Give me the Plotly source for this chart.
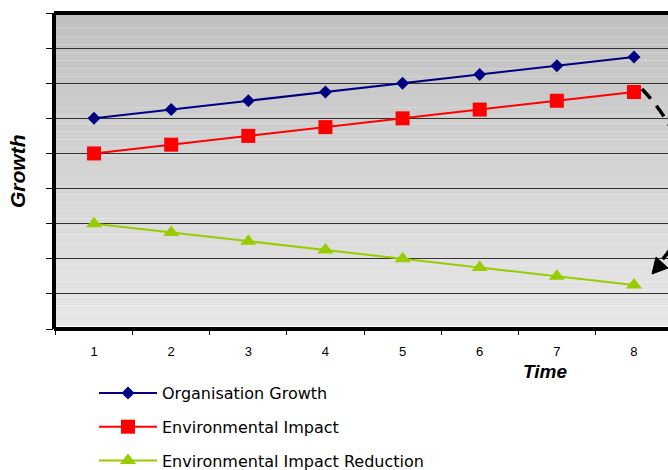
import plotly.graph_objects as go

# ---- data ----
time_labels = ["1", "2", "3", "4", "5", "6", "7", "8"]
org_growth = [6.0, 6.25, 6.5, 6.75, 7.0, 7.25, 7.5, 7.75]
env_impact = [5.0, 5.25, 5.5, 5.75, 6.0, 6.25, 6.5, 6.75]
env_reduction = [3.0, 2.75, 2.5, 2.25, 2.0, 1.75, 1.5, 1.25]
y_ticks = [0, 1, 2, 3, 4, 5, 6, 7, 8, 9]

W, H = 668, 470
L, R, T, B = 54, 0, 13, 141
PW, PH = W - L - R, H - T - B
FONT = "Liberation Sans, Arial, sans-serif"


def px(x):
    return (x - L) / PW


def py(y):
    return (H - B - y) / PH


fig = go.Figure()
fig.add_trace(go.Scatter(
    x=time_labels, y=org_growth, name="Organisation Growth", mode="lines+markers",
    line=dict(color="#000080", width=2),
    marker=dict(symbol="diamond", size=10, color="#000080"),
    legendgroup="a"))
fig.add_trace(go.Scatter(
    x=time_labels, y=env_impact, name="Environmental Impact", mode="lines+markers",
    line=dict(color="#ff0000", width=2),
    marker=dict(symbol="square", size=14, color="#ff0000"),
    legendgroup="b"))
fig.add_trace(go.Scatter(
    x=time_labels, y=env_reduction, name="Environmental Impact Reduction", mode="lines+markers",
    line=dict(color="#99cc00", width=2),
    marker=dict(symbol="triangle-up", size=14, color="#99cc00"),
    legendgroup="c"))

shapes = []
# vertical gradient background
n = 40
top_c, bot_c = 192, 232
for i in range(n):
    c = round(bot_c + (top_c - bot_c) * (i + 0.5) / n)
    shapes.append(dict(type="rect", xref="paper", yref="paper",
                       x0=0, x1=1, y0=i / n, y1=(i + 1) / n,
                       fillcolor=f"rgb({c},{c},{c})", line=dict(width=0), layer="below"))
# white inner line near bottom
shapes.append(dict(type="line", xref="paper", yref="paper", x0=0, x1=1,
                   y0=py(326.5), y1=py(326.5), line=dict(color="white", width=1.2)))
# frame
for (x0, y0, x1, y1) in [(0, 1, 1.02, 1), (0, 0, 1.02, 0), (0, 0, 0, 1)]:
    shapes.append(dict(type="line", xref="paper", yref="paper",
                       x0=x0, y0=y0, x1=x1, y1=y1,
                       line=dict(color="black", width=4)))
# dashed curved arrow
p0, c1, c2, p1 = (642, 89), (700, 150), (700, 220), (660, 262)
path = "M {} {} C {} {} {} {} {} {}".format(
    px(p0[0]), py(p0[1]), px(c1[0]), py(c1[1]), px(c2[0]), py(c2[1]), px(p1[0]), py(p1[1]))
shapes.append(dict(type="path", xref="paper", yref="paper", path=path,
                   line=dict(color="black", width=3.5, dash="13px,9px")))
head = "M {} {} L {} {} L {} {} Z".format(
    px(652), py(274), px(656), py(257), px(668), py(268))
shapes.append(dict(type="path", xref="paper", yref="paper", path=head,
                   fillcolor="black", line=dict(color="black", width=1)))

fig.update_layout(
    width=W, height=H,
    margin=dict(l=L, r=R, t=T, b=B, autoexpand=False),
    paper_bgcolor="white",
    plot_bgcolor="rgba(0,0,0,0)",
    font=dict(family=FONT, color="black"),
    shapes=shapes,
    showlegend=True,
    legend=dict(
        x=px(94), y=py(376), xanchor="left", yanchor="top",
        font=dict(size=16, family="DejaVu Sans, " + FONT), bgcolor="rgba(0,0,0,0)",
        traceorder="grouped", tracegroupgap=10, itemwidth=58,
    ),
    annotations=[
        dict(text="<b><i>Growth</i></b>", xref="paper", yref="paper",
             x=px(17), y=py(171), xanchor="center", yanchor="middle",
             showarrow=False, textangle=-90,
             font=dict(size=21, family=FONT)),
        dict(text="<b><i>Time</i></b>", xref="paper", yref="paper",
             x=px(545), y=py(371), xanchor="center", yanchor="middle",
             showarrow=False,
             font=dict(size=19, family=FONT)),
    ],
)
fig.update_xaxes(
    type="category", range=[-0.519, 7.441], showgrid=False, zeroline=False,
    tickson="boundaries", ticks="outside", ticklen=5, tickcolor="black", tickwidth=1,
    tickfont=dict(size=13, family=FONT), ticklabelstandoff=13, showline=False,
)
fig.update_yaxes(
    range=[0, 9], tickvals=y_ticks, showticklabels=False,
    ticks="outside", ticklen=7, tickcolor="black", tickwidth=1,
    showgrid=True, gridcolor="#333333", gridwidth=1, zeroline=False, showline=False,
)

fig.write_html("out.html", config={"displayModeBar": False},
               post_script="document.body.style.margin='0';document.body.style.overflow='hidden';")
